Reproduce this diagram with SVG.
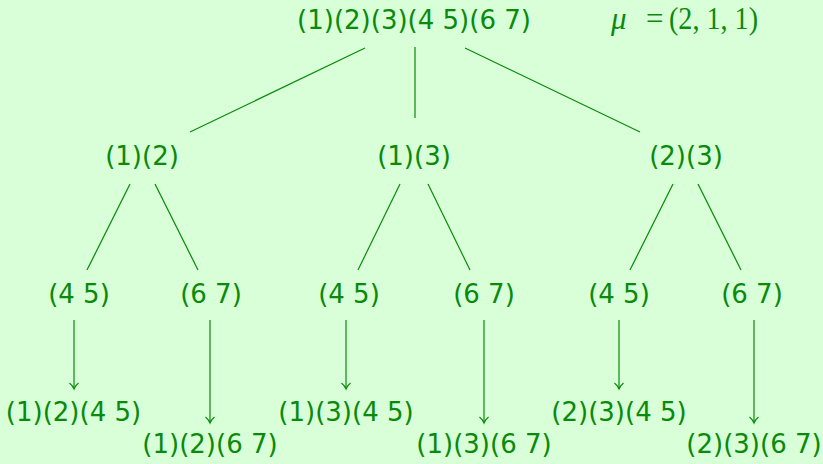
<svg xmlns="http://www.w3.org/2000/svg" width="823" height="464" viewBox="0 0 823 464">
<style>
.t{font-family:"DejaVu Sans","Liberation Sans",sans-serif;font-size:26px;fill:#0a8a0a;text-anchor:middle}
.m{font-family:"Liberation Serif","DejaVu Serif",serif;font-size:31px;fill:#0a8a0a}
.e{stroke:#0a8a0a;stroke-width:1.2;fill:none}
</style>
<defs>
<marker id="ah" markerWidth="10" markerHeight="12" refX="8" refY="6" orient="auto" markerUnits="userSpaceOnUse" viewBox="0 0 10 12">
<path d="M2,1.5 Q5,5 8,6 Q5,7 2,10.5" fill="none" stroke="#0a8a0a" stroke-width="1.1"/>
</marker>
</defs>
<rect width="823" height="464" fill="#d9ffd9"/>
<g id="connectors">
<line class="e" x1="365" y1="48" x2="190" y2="132"/>
<line class="e" x1="415" y1="47" x2="415" y2="118"/>
<line class="e" x1="465" y1="48" x2="640" y2="132"/>
<line class="e" x1="130" y1="184" x2="87" y2="270"/>
<line class="e" x1="155" y1="184" x2="198" y2="270"/>
<line class="e" x1="400" y1="184" x2="358" y2="270"/>
<line class="e" x1="428" y1="184" x2="470" y2="270"/>
<line class="e" x1="673" y1="184" x2="630" y2="270"/>
<line class="e" x1="698" y1="184" x2="741" y2="270"/>
<line class="e" x1="74" y1="320" x2="74" y2="389" marker-end="url(#ah)"/>
<line class="e" x1="210" y1="320" x2="210" y2="423" marker-end="url(#ah)"/>
<line class="e" x1="346" y1="320" x2="346" y2="389" marker-end="url(#ah)"/>
<line class="e" x1="484" y1="320" x2="484" y2="423" marker-end="url(#ah)"/>
<line class="e" x1="619" y1="320" x2="619" y2="389" marker-end="url(#ah)"/>
<line class="e" x1="754" y1="320" x2="754" y2="423" marker-end="url(#ah)"/>
</g>
<g id="root"><text class="t" x="414" y="29">(1)(2)(3)(4 5)(6 7)</text></g>
<g id="mu"><text class="m" y="29"><tspan x="611" font-style="italic">μ</tspan><tspan x="646">=</tspan><tspan x="669" textLength="89" lengthAdjust="spacingAndGlyphs">(2, 1, 1)</tspan></text></g>
<g id="n12"><text class="t" x="142" y="165">(1)(2)</text></g>
<g id="n13"><text class="t" x="414" y="165">(1)(3)</text></g>
<g id="n23"><text class="t" x="686" y="165">(2)(3)</text></g>
<g id="n12a"><text class="t" x="79" y="303">(4 5)</text></g>
<g id="n12b"><text class="t" x="211" y="303">(6 7)</text></g>
<g id="n13a"><text class="t" x="349" y="303">(4 5)</text></g>
<g id="n13b"><text class="t" x="484" y="303">(6 7)</text></g>
<g id="n23a"><text class="t" x="619" y="303">(4 5)</text></g>
<g id="n23b"><text class="t" x="752" y="303">(6 7)</text></g>
<g id="l1"><text class="t" x="73.5" y="421">(1)(2)(4 5)</text></g>
<g id="l2"><text class="t" x="210" y="453">(1)(2)(6 7)</text></g>
<g id="l3"><text class="t" x="346" y="421">(1)(3)(4 5)</text></g>
<g id="l4"><text class="t" x="484" y="453">(1)(3)(6 7)</text></g>
<g id="l5"><text class="t" x="619" y="421">(2)(3)(4 5)</text></g>
<g id="l6"><text class="t" x="754" y="453">(2)(3)(6 7)</text></g>
</svg>
